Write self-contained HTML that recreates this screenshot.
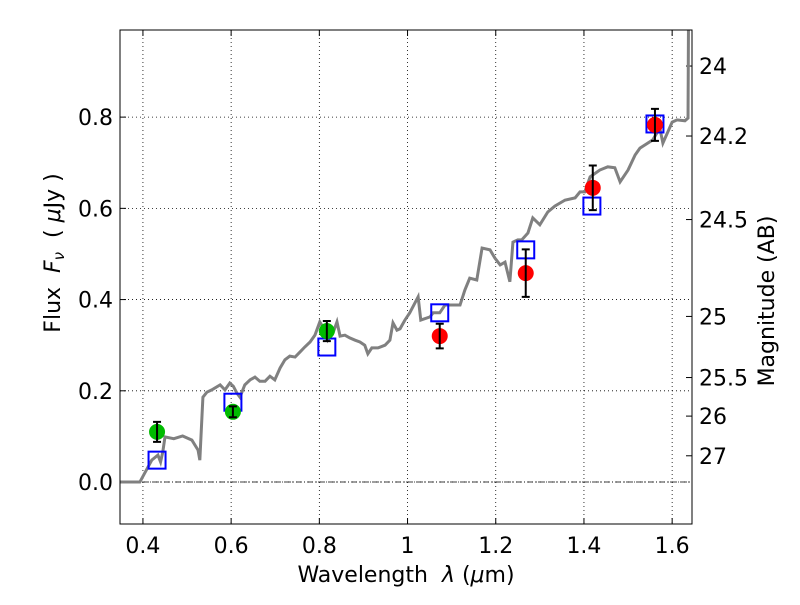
<!DOCTYPE html>
<html><head><meta charset="utf-8"><style>
body{margin:0;background:#fff;}
svg text{font-family:"DejaVu Sans","Liberation Sans",sans-serif;fill:#000;white-space:pre;}
</style></head><body>
<svg id="c" width="800" height="600" xmlns="http://www.w3.org/2000/svg"></svg>
<script>
const specWave=[0.348,0.393,0.420,0.434,0.440,0.445,0.450,0.47,0.49,0.511,0.525,0.529,0.536,0.545,0.556,0.575,0.586,0.597,0.605,0.613,0.620,0.631,0.643,0.654,0.665,0.677,0.688,0.699,0.711,0.722,0.733,0.745,0.756,0.767,0.779,0.790,0.801,0.808,0.819,0.831,0.840,0.847,0.858,0.869,0.881,0.892,0.903,0.910,0.919,0.933,0.949,0.960,0.967,0.976,0.983,0.994,1.005,1.024,1.030,1.051,1.058,1.073,1.085,1.119,1.130,1.141,1.157,1.169,1.187,1.198,1.210,1.221,1.232,1.239,1.250,1.259,1.273,1.284,1.300,1.318,1.334,1.357,1.380,1.391,1.402,1.414,1.436,1.454,1.470,1.482,1.500,1.516,1.527,1.538,1.556,1.572,1.579,1.600,1.611,1.629,1.636,1.637];
const specFlux=[0,0,0.048,0.059,0.044,0.066,0.099,0.095,0.101,0.092,0.07,0.048,0.186,0.197,0.202,0.213,0.202,0.217,0.21,0.195,0.186,0.213,0.224,0.230,0.221,0.221,0.232,0.224,0.25,0.268,0.276,0.274,0.285,0.296,0.307,0.322,0.351,0.340,0.311,0.327,0.351,0.320,0.322,0.316,0.311,0.307,0.300,0.281,0.294,0.294,0.300,0.311,0.349,0.333,0.336,0.355,0.371,0.406,0.355,0.362,0.371,0.371,0.388,0.388,0.421,0.447,0.443,0.513,0.509,0.491,0.476,0.482,0.439,0.526,0.531,0.531,0.546,0.579,0.564,0.592,0.605,0.618,0.623,0.636,0.636,0.669,0.684,0.691,0.689,0.658,0.684,0.717,0.732,0.739,0.750,0.776,0.743,0.789,0.794,0.792,0.798,1.0];
const greenWave=[0.432,0.604,0.817];
const greenFlux=[0.110,0.154,0.331];
const greenErr=[0.022,0.012,0.022];
const redWave=[1.073,1.268,1.420,1.561];
const redFlux=[0.320,0.458,0.645,0.783];
const redErr=[0.027,0.052,0.049,0.035];
const modelWave=[0.432,0.604,0.817,1.073,1.268,1.418,1.561];
const modelFlux=[0.048,0.175,0.296,0.371,0.509,0.605,0.785];
const xTicks=[0.4,0.6,0.8,1.0,1.2,1.4,1.6];
const xTickLabels=["0.4","0.6","0.8","1","1.2","1.4","1.6"];
const yTicks=[0,0.2,0.4,0.6,0.8];
const yTickLabels=["0.0","0.2","0.4","0.6","0.8"];
const magTicks=[24,24.2,24.5,25,25.5,26,27];
const magLabels=["24","24.2","24.5","25","25.5","26","27"];

const L=120,R=692,T=30,B=524,xmin=0.348,xmax=1.645,ymin=-0.092,ymax=0.991;
const X=v=>L+(v-xmin)/(xmax-xmin)*(R-L);
const Y=v=>B-(v-ymin)/(ymax-ymin)*(B-T);
const svg=document.getElementById('c');
const NS='http://www.w3.org/2000/svg';
function mk(tag,at,parent){const e=document.createElementNS(NS,tag);for(const k in at)e.setAttribute(k,at[k]);(parent||svg).appendChild(e);return e;}
const clip=mk('clipPath',{id:'pc'});mk('rect',{x:L,y:T,width:R-L,height:B-T},clip);
const FS=22;
xTicks.forEach((t,i)=>{const x=X(t);
 let g=mk('line',{x1:x,x2:x,y1:T,y2:B,stroke:'#000','stroke-width':0.8,'stroke-dasharray':'1,3'});
 
 mk('line',{x1:x,x2:x,y1:B,y2:B-6,stroke:'#000'});mk('line',{x1:x,x2:x,y1:T,y2:T+6,stroke:'#000'});
 let tx=mk('text',{x:x,y:B+29,'text-anchor':'middle','font-size':FS});tx.textContent=xTickLabels[i];
 });
yTicks.forEach((t,i)=>{const y=Y(t);
 let g=mk('line',{x1:L,x2:R,y1:y,y2:y,stroke:'#000','stroke-width':0.8,'stroke-dasharray':'1,3'});
 
 mk('line',{x1:L,x2:L+6,y1:y,y2:y,stroke:'#000'});
 let tx=mk('text',{x:L-7,y:y+8,'text-anchor':'end','font-size':FS});tx.textContent=yTickLabels[i];
 });
magTicks.forEach((m,i)=>{const y=Y(Math.pow(10,(23.9-m)/2.5));
 mk('line',{x1:R,x2:R-6,y1:y,y2:y,stroke:'#000'});
 let tx=mk('text',{x:R+7,y:y+8,'font-size':FS});tx.textContent=magLabels[i];
 });
let z=mk('line',{x1:L,x2:R,y1:Y(0),y2:Y(0),stroke:'#000','stroke-width':0.7,'stroke-dasharray':'6,2,1,2'});

let p=mk('polyline',{points:specWave.map((w,i)=>X(w)+','+Y(specFlux[i])).join(' '),fill:'none',stroke:'#808080','stroke-width':3,'clip-path':'url(#pc)'});

modelWave.forEach((w,i)=>{let r=mk('rect',{x:X(w)-8.5,y:Y(modelFlux[i])-8.5,width:17,height:17,fill:'none',stroke:'#0000ff','stroke-width':2});
 });
function pts(ws,fs,es,col,name){ws.forEach((w,i)=>{const x=X(w);
 let c=mk('circle',{cx:x,cy:Y(fs[i]),r:8,fill:col});
 
 const y1=Y(fs[i]+es[i]),y2=Y(fs[i]-es[i]);
 let e=mk('path',{d:`M${x},${y1}V${y2}M${x-4},${y1}H${x+4}M${x-4},${y2}H${x+4}`,stroke:'#000','stroke-width':2,fill:'none'});
 });}
pts(greenWave,greenFlux,greenErr,'#00bb00','ground-data-point');
pts(redWave,redFlux,redErr,'#ff0000','space-data-point');
let fr=mk('rect',{x:L,y:T,width:R-L,height:B-T,fill:'none',stroke:'#000','stroke-width':1});

let xl=mk('text',{x:406,y:582,'text-anchor':'middle','font-size':FS});xl.innerHTML='Wavelength  <tspan font-style="italic">λ</tspan> (<tspan font-style="italic">μ</tspan>m)';

let yl=mk('text',{x:0,y:0,'text-anchor':'middle','font-size':FS,transform:'translate(60,253) rotate(-90)'});yl.innerHTML='Flux  <tspan font-style="italic">F</tspan><tspan font-style="italic" font-size="15" dy="4">ν</tspan><tspan dy="-4">  ( </tspan><tspan font-style="italic">μ</tspan>Jy )';

let rl=mk('text',{x:0,y:0,'text-anchor':'middle','font-size':FS,transform:'translate(774,301) rotate(-90)'});rl.textContent='Magnitude (AB)';

</script>
</body></html>
